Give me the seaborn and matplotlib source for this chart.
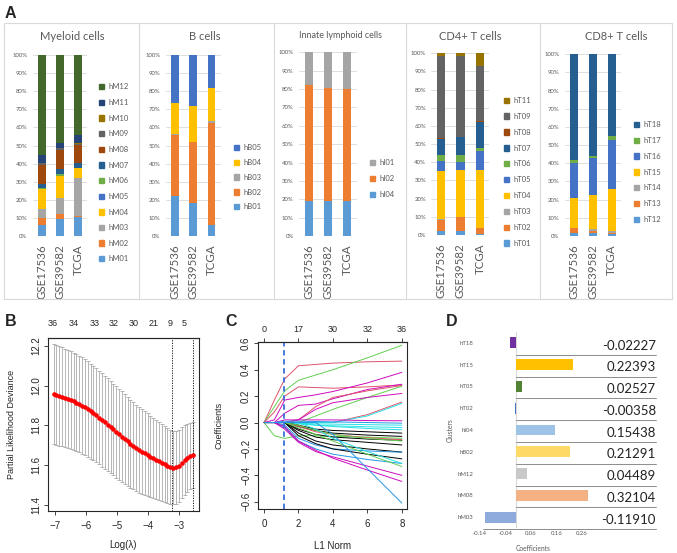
import numpy as np
import pandas as pd
import matplotlib
matplotlib.use("Agg")
import matplotlib.pyplot as plt
import seaborn as sns
from matplotlib.patches import Rectangle, Patch
from matplotlib.lines import Line2D

W, H = 677, 553
sns.set_style("ticks")
plt.rcParams["font.family"] = ["Liberation Sans", "DejaVu Sans"]
XL_FONT = ["Lato", "DejaVu Sans"]
XL_GRAY = "#595959"

# ---------------- Panel A data ----------------
datasets = ["GSE17536", "GSE39582", "TCGA"]
office = ["#5B9BD5", "#ED7D31", "#A5A5A5", "#FFC000", "#4472C4", "#70AD47",
          "#255E91", "#9E480E", "#636363", "#997300", "#264478", "#43682B"]

myeloid_clusters = ["hM01", "hM02", "hM03", "hM04", "hM05", "hM06",
                    "hM07", "hM08", "hM09", "hM10", "hM11", "hM12"]
myeloid_GSE17536 = [6.2, 3.6, 5.2, 10.8, 0.3, 0.5, 2.4, 10.5, 1.0, 0.1, 4.4, 55.0]
myeloid_GSE39582 = [9.4, 3.0, 8.6, 12.0, 0.3, 0.7, 2.8, 10.7, 1.0, 0.3, 2.5, 48.7]
myeloid_TCGA = [10.5, 0.8, 20.5, 5.5, 0.2, 0.3, 2.4, 9.9, 1.0, 0.5, 4.4, 44.0]

bcell_clusters = ["hB01", "hB02", "hB03", "hB04", "hB05"]
bcell_GSE17536 = [22.0, 34.0, 0.5, 17.0, 26.5]
bcell_GSE39582 = [18.5, 33.3, 0.3, 19.5, 28.4]
bcell_TCGA = [6.0, 56.5, 1.0, 18.5, 18.0]

ilc_clusters = ["hI04", "hI02", "hI01"]
ilc_GSE17536 = [19.3, 62.7, 18.0]
ilc_GSE39582 = [18.8, 61.7, 19.5]
ilc_TCGA = [19.3, 60.7, 20.0]

cd4_clusters = ["hT01", "hT02", "hT03", "hT04", "hT05", "hT06", "hT07", "hT08", "hT09", "hT11"]
cd4_GSE17536 = [2.3, 6.2, 0.3, 26.2, 6.0, 3.0, 9.0, 0.2, 45.3, 1.5]
cd4_GSE39582 = [2.3, 7.5, 0.3, 25.7, 4.5, 4.0, 9.5, 0.2, 44.5, 1.5]
cd4_TCGA = [0.3, 3.5, 0.2, 32.0, 10.5, 1.2, 14.3, 0.5, 30.7, 6.8]

cd8_clusters = ["hT12", "hT13", "hT14", "hT15", "hT16", "hT17", "hT18"]
cd8_GSE17536 = [1.8, 2.4, 0.3, 16.5, 19.3, 1.7, 58.0]
cd8_GSE39582 = [1.8, 1.2, 0.8, 18.5, 20.5, 1.2, 56.0]
cd8_TCGA = [1.0, 0.8, 0.8, 23.0, 27.0, 2.6, 44.8]

# ---------------- Panel B data ----------------
log_lambda_start, log_lambda_end = -7.05, -2.55
cv_mean = [11.957, 11.953, 11.949, 11.944, 11.939, 11.934, 11.928, 11.922, 11.915, 11.908,
           11.900, 11.891, 11.882, 11.872, 11.862, 11.851, 11.840, 11.828, 11.816, 11.804,
           11.792, 11.780, 11.768, 11.756, 11.744, 11.732, 11.720, 11.709, 11.698, 11.688,
           11.678, 11.669, 11.660, 11.652, 11.644, 11.636, 11.628, 11.620, 11.612, 11.604,
           11.597, 11.591, 11.588, 11.589, 11.597, 11.612, 11.627, 11.638, 11.646, 11.652]
cv_sd = [0.252, 0.251, 0.250, 0.249, 0.248, 0.247, 0.246, 0.245, 0.244, 0.243,
         0.242, 0.241, 0.240, 0.239, 0.238, 0.237, 0.236, 0.235, 0.234, 0.233,
         0.232, 0.231, 0.230, 0.229, 0.227, 0.225, 0.223, 0.221, 0.219, 0.217,
         0.215, 0.213, 0.211, 0.209, 0.206, 0.203, 0.200, 0.197, 0.194, 0.191,
         0.189, 0.187, 0.185, 0.183, 0.181, 0.178, 0.175, 0.171, 0.167, 0.164]
lambda_min, lambda_1se = -3.24, -2.55
b_top_pos = [-7.07, -6.39, -5.74, -5.10, -4.48, -3.84, -3.29, -2.84]
b_top_labels = ["36", "34", "33", "32", "30", "21", "9", "5"]

# ---------------- Panel C data ----------------
l1_knots = [0, 0.6, 1.2, 2, 3, 4, 6, 8]
path_colors = ["red", "green", "red", "magenta", "magenta", "red", "green", "magenta",
               "red", "cyan", "magenta", "blue", "green", "cyan", "cyan", "cyan",
               "black", "black", "black", "red", "green", "black", "black", "blue",
               "black", "blue", "cyan", "green", "magenta", "magenta", "blue"]
path_values = [
    [0, 0.17, 0.33, 0.43, 0.44, 0.45, 0.46, 0.465],
    [0, 0.12, 0.24, 0.32, 0.36, 0.40, 0.49, 0.585],
    [0, 0.08, 0.20, 0.27, 0.265, 0.26, 0.27, 0.285],
    [0, 0.02, 0.17, 0.19, 0.21, 0.235, 0.30, 0.38],
    [0, 0.0, 0.07, 0.13, 0.14, 0.18, 0.25, 0.29],
    [0, 0.0, 0.0, 0.02, 0.12, 0.19, 0.24, 0.28],
    [0, 0.0, 0.0, 0.0, 0.05, 0.10, 0.19, 0.275],
    [0, 0.0, 0.0, 0.02, 0.10, 0.15, 0.19, 0.22],
    [0, 0, 0, 0, 0, 0, 0.06, 0.155],
    [0, 0, 0, 0, 0, 0.0, 0.05, 0.145],
    [0, 0, 0.02, 0.02, 0.02, 0.02, 0.015, 0.013],
    [0, 0, 0.01, 0.01, 0.008, 0.005, 0.0, -0.005],
    [0, -0.10, -0.12, -0.10, -0.10, -0.105, -0.11, -0.12],
    [0, 0, 0, -0.005, -0.01, -0.012, -0.016, -0.02],
    [0, 0, 0, -0.01, -0.02, -0.025, -0.032, -0.038],
    [0, 0, 0, 0, -0.02, -0.03, -0.045, -0.055],
    [0, 0, 0, -0.02, -0.05, -0.06, -0.07, -0.08],
    [0, 0, 0, -0.03, -0.06, -0.08, -0.095, -0.105],
    [0, 0, 0, -0.05, -0.09, -0.11, -0.125, -0.135],
    [0, 0, 0, -0.03, -0.07, -0.09, -0.115, -0.13],
    [0, 0, 0, -0.02, -0.06, -0.09, -0.12, -0.14],
    [0, 0, 0, -0.06, -0.11, -0.13, -0.15, -0.17],
    [0, 0, 0, -0.08, -0.14, -0.17, -0.20, -0.224],
    [0, 0, -0.02, -0.12, -0.17, -0.20, -0.215, -0.225],
    [0, 0, 0, -0.10, -0.16, -0.20, -0.24, -0.275],
    [0, 0, -0.04, -0.14, -0.20, -0.24, -0.28, -0.31],
    [0, 0, 0, 0, -0.05, -0.12, -0.22, -0.31],
    [0, 0, 0, -0.04, -0.09, -0.14, -0.24, -0.333],
    [0, 0, -0.05, -0.15, -0.22, -0.26, -0.33, -0.40],
    [0, 0, -0.03, -0.14, -0.21, -0.27, -0.36, -0.446],
    [0, 0, 0, 0, 0, -0.09, -0.35, -0.61],
]
r_palette = {"black": "#000000", "red": "#DF536B", "green": "#61D04F",
             "blue": "#2297E6", "cyan": "#28E2E5", "magenta": "#CD0BBC"}
l1_selected = 1.18
c_top_pos = [0, 2, 4, 6, 8]
c_top_labels = ["0", "17", "30", "32", "36"]

# ---------------- Panel D data ----------------
coef_clusters = ["hT18", "hT15", "hT05", "hT02", "hI04", "hB02", "hM12", "hM08", "hM03"]
coef_values = [-0.02227, 0.22393, 0.02527, -0.00358, 0.15438, 0.21291, 0.04489, 0.32104, -0.11910]
coef_colors = ["#7030A0", "#FFC000", "#548235", "#4472C4", "#9DC3E6", "#FFD966",
               "#C9C9C9", "#F4B183", "#8FAADC"]
coef_ticks = [-0.14, -0.04, 0.06, 0.16, 0.26]


def px_rect(l, t, r, b):
    return [l / W, 1 - b / H, (r - l) / W, (b - t) / H]


fig = plt.figure(figsize=(W / 100, H / 100), dpi=100)

# ---------------- Panel A ----------------
fig.add_artist(Rectangle((4 / W, 1 - 299 / H), 668 / W, 276 / H, transform=fig.transFigure,
                         fill=False, ec="#D9D9D9", lw=0.8))
for xs in [139, 274, 406, 540]:
    fig.add_artist(Line2D([xs / W, xs / W], [1 - 23 / H, 1 - 299 / H], transform=fig.transFigure,
                          color="#D9D9D9", lw=0.8))


def stacked_panel(rect, title, title_xy, title_size, clusters, vals, legend_xy, pitch):
    ax = fig.add_axes(px_rect(*rect))
    colors = office[:len(clusters)]
    cum = np.cumsum(np.array(vals, dtype=float), axis=1)
    for k in range(len(clusters) - 1, -1, -1):
        sns.barplot(x=datasets, y=cum[:, k], color=colors[k], width=0.42, saturation=1,
                    linewidth=0, errorbar=None, ax=ax)
    ax.set_xlim(-0.5, 2.5)
    ax.set_ylim(0, 100)
    ax.set_yticks(range(0, 101, 10))
    ax.set_yticklabels([f"{v}%" for v in range(0, 101, 10)], fontsize=4.3, color=XL_GRAY,
                       family=XL_FONT)
    ax.set_xticks([0, 1, 2])
    ax.set_xticklabels(datasets, rotation=90, fontsize=8.3, color=XL_GRAY, family=XL_FONT)
    ax.tick_params(axis="both", length=0)
    ax.tick_params(axis="y", pad=4)
    ax.tick_params(axis="x", pad=6)
    ax.grid(axis="y", color="#D9D9D9", lw=0.6)
    ax.set_axisbelow(True)
    ax.set_xlabel("")
    ax.set_ylabel("")
    for s in ax.spines.values():
        s.set_visible(False)
    fig.text(title_xy[0] / W, 1 - title_xy[1] / H, title, ha="center", va="center",
             fontsize=title_size, color=XL_GRAY, family=XL_FONT)
    handles = [Patch(color=colors[k], label=clusters[k]) for k in range(len(clusters) - 1, -1, -1)]
    fs = 5.5
    fs_px = fs * 100 / 72
    ls = pitch / fs_px - 0.906
    ax.legend(handles=handles, loc="upper left",
              bbox_to_anchor=(legend_xy[0] / W, 1 - (legend_xy[1] - 0.5 * fs_px) / H),
              bbox_transform=fig.transFigure, frameon=False, prop={"family": XL_FONT, "size": fs},
              labelcolor=XL_GRAY, handlelength=0.7, handleheight=0.7, handletextpad=0.5,
              labelspacing=ls, borderpad=0, borderaxespad=0)
    return ax


stacked_panel((33, 55, 87, 236), "Myeloid cells", (72, 37), 8, myeloid_clusters,
              [myeloid_GSE17536, myeloid_GSE39582, myeloid_TCGA], (99, 87.3), 15.55)
stacked_panel((165.8, 55, 220.8, 236), "B cells", (205, 37), 8, bcell_clusters,
              [bcell_GSE17536, bcell_GSE39582, bcell_TCGA], (234, 148.3), 14.6)
stacked_panel((299.1, 52.3, 357.1, 236), "Innate lymphoid cells", (340, 35), 6.5, ilc_clusters,
              [ilc_GSE17536, ilc_GSE39582, ilc_TCGA], (370, 163.3), 15.8)
stacked_panel((431.5, 53.3, 489.5, 235), "CD4+ T cells", (470, 37), 8, cd4_clusters,
              [cd4_GSE17536, cd4_GSE39582, cd4_TCGA], (504, 100.7), 15.8)
stacked_panel((565, 54.3, 621, 236), "CD8+ T cells", (616, 37), 8, cd8_clusters,
              [cd8_GSE17536, cd8_GSE39582, cd8_TCGA], (634, 125), 15.7)

# ---------------- Panel B ----------------
axB = fig.add_axes(px_rect(48, 338, 199, 511))
log_lambda = np.linspace(log_lambda_start, log_lambda_end, len(cv_mean))
axB.errorbar(log_lambda, cv_mean, yerr=cv_sd, fmt="none", ecolor="#A9A9A9",
             elinewidth=0.6, capsize=1.2, capthick=0.6)
sns.scatterplot(x=log_lambda, y=cv_mean, color="#FF0000", s=11, linewidth=0, ax=axB, zorder=3)
for v in [lambda_min, lambda_1se]:
    axB.axvline(v, color="black", lw=0.6, ls=(0, (1.5, 1.5)))
axB.set_xlim(-7.23, -2.36)
axB.set_ylim(11.37, 12.24)
axB.set_xticks([-7, -6, -5, -4, -3])
axB.set_xticklabels(["\u22127", "\u22126", "\u22125", "\u22124", "\u22123"], fontsize=7)
axB.set_yticks([11.4, 11.6, 11.8, 12.0, 12.2])
axB.set_yticklabels(["11.4", "11.6", "11.8", "12.0", "12.2"], fontsize=7, rotation=90, va="center")
axB.tick_params(length=3, width=0.6, pad=2)
axB.tick_params(axis="x", pad=4)
axB.set_xlabel("Log(\u03bb)", fontsize=7)
axB.set_ylabel("Partial Likelihood Deviance", fontsize=6.5)
axB.xaxis.set_label_coords(0.5, -0.17)
axB.yaxis.set_label_coords(-0.21, 0.5)
for s in axB.spines.values():
    s.set_visible(True)
    s.set_linewidth(0.8)
topB = axB.secondary_xaxis("top")
topB.set_xticks(b_top_pos)
topB.set_xticklabels(b_top_labels, fontsize=6.5)
topB.tick_params(length=0, pad=7)

# ---------------- Panel C ----------------
axC = fig.add_axes(px_rect(258, 342, 407, 509))
rows = []
for i, ys in enumerate(path_values):
    for xk, yk in zip(l1_knots, ys):
        rows.append({"path": f"p{i:02d}", "l1": xk, "coef": yk})
dfC = pd.DataFrame(rows)
palC = {f"p{i:02d}": r_palette[c] for i, c in enumerate(path_colors)}
sns.lineplot(data=dfC, x="l1", y="coef", hue="path", palette=palC, estimator=None,
             sort=False, legend=False, lw=0.7, ax=axC)
axC.axvline(l1_selected, color="#3A6FD8", lw=1.3, ls=(0, (3, 2)))
axC.set_xlim(-0.35, 8.3)
axC.set_ylim(-0.655, 0.61)
axC.set_xticks([0, 2, 4, 6, 8])
axC.set_xticklabels(["0", "2", "4", "6", "8"], fontsize=7)
axC.set_yticks([-0.6, -0.4, -0.2, 0.0, 0.2, 0.4, 0.6])
axC.set_yticklabels(["\u22120.6", "\u22120.4", "\u22120.2", "0.0", "0.2", "0.4", "0.6"],
                    fontsize=7, rotation=90, va="center")
axC.tick_params(length=3, width=0.6, pad=2)
axC.tick_params(axis="x", pad=4)
axC.set_xlabel("L1 Norm", fontsize=7)
axC.set_ylabel("Coefficients", fontsize=6.5)
axC.xaxis.set_label_coords(0.5, -0.19)
axC.yaxis.set_label_coords(-0.23, 0.5)
for s in axC.spines.values():
    s.set_visible(True)
    s.set_linewidth(0.8)
topC = axC.secondary_xaxis("top")
topC.set_xticks(c_top_pos)
topC.set_xticklabels(c_top_labels, fontsize=6.5)
topC.tick_params(length=3, width=0.6, pad=3)

# ---------------- Panel D ----------------
axD = fig.add_axes(px_rect(476.2, 332, 588.4, 528))
sns.barplot(x=coef_values, y=coef_clusters, hue=coef_clusters, palette=coef_colors, legend=False,
            width=0.5, saturation=1, orient="h", linewidth=0, ax=axD)
axD.set_xlim(-0.155, 0.285)
axD.set_ylim(8.5, -0.5)
axD.axvline(0, color="#D9D9D9", lw=0.8, zorder=0)
for i in range(len(coef_clusters)):
    x0 = -0.128 if i == len(coef_clusters) - 1 else 0
    axD.plot([x0, 0.55], [i + 0.55, i + 0.55], color="#8C8C8C", lw=0.7, clip_on=False)
    axD.text(0.55, i + 0.12, f"{coef_values[i]:.5f}", ha="right", va="center", fontsize=9.5,
             family=XL_FONT, color="#222222", clip_on=False)
axD.set_xticks(coef_ticks)
axD.set_xticklabels([f"{t:.2f}" for t in coef_ticks], fontsize=4.3, color=XL_GRAY, family=XL_FONT)
axD.set_yticks(range(len(coef_clusters)))
axD.set_yticklabels(coef_clusters, fontsize=4.3, color=XL_GRAY, family=XL_FONT)
axD.tick_params(length=0, pad=2)
for s in axD.spines.values():
    s.set_visible(False)
axD.set_xlabel("Coefficients", fontsize=4.8, color=XL_GRAY, family=XL_FONT)
axD.set_ylabel("Clusters", fontsize=4.8, color=XL_GRAY, family=XL_FONT)
axD.xaxis.set_label_coords(0.506, -0.085)
axD.yaxis.set_label_coords(-0.2, 0.5)

# ---------------- Panel letters ----------------
for lab, x, y in [("A", 5, 13), ("B", 5, 321), ("C", 225, 322), ("D", 446, 322)]:
    fig.text(x / W, 1 - y / H, lab, fontsize=11.5, fontweight="bold", ha="left", va="center")

fig.savefig("out.png", dpi=100, facecolor="white")
